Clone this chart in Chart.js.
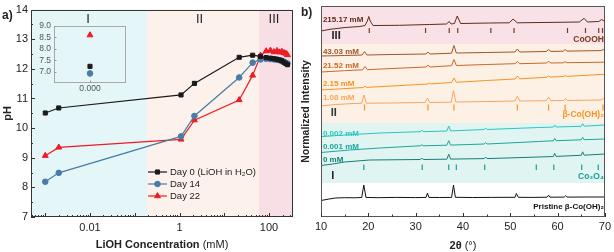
<!DOCTYPE html>
<html>
<head>
<meta charset="utf-8">
<script src="https://cdn.jsdelivr.net/npm/chart.js@4.4.1/dist/chart.umd.min.js"></script>
<style>
  html, body { margin: 0; padding: 0; background: #fff; }
  #wrap { position: relative; width: 614px; height: 252px; overflow: hidden; }
  canvas { position: absolute; }
</style>
</head>
<body>
<div id="wrap">
  <canvas id="phChart" width="300" height="252" style="left:0px;top:0px"></canvas>
  <canvas id="insetChart" width="105" height="80" style="left:30px;top:15px"></canvas>
  <canvas id="xrdChart" width="318" height="252" style="left:296px;top:0px"></canvas>
</div>
<script>
// ---- panel a: pH vs LiOH concentration ----
const conc = [0.001, 0.002, 1.08, 2.15, 21.52, 43.03, 64.55, 86.07, 107.59, 129.1, 150.62, 172.14, 193.65, 215.17, 236.69, 258.2];
const phDay0 = [10.51, 10.68, 11.12, 11.51, 12.39, 12.46, 12.42, 12.38, 12.36, 12.34, 12.32, 12.3, 12.27, 12.22, 12.18, 12.14];
const phDay14 = [8.19, 8.49, 9.72, 10.41, 11.71, 12.21, 12.32, 12.34, 12.33, 12.32, 12.31, 12.29, 12.27, 12.24, 12.21, 12.18];
const phDay22 = [9.07, 9.35, 9.62, 10.27, 10.95, 11.78, 12.45, 12.6, 12.62, 12.57, 12.61, 12.56, 12.58, 12.54, 12.52, 12.47];
const seriesNames = ['Day 0 (LiOH in H\u2082O)', 'Day 14', 'Day 22'];
const xTickVals = [0.01, 1, 100];
const xTickLabels = ['0.01', '1', '100'];
const regionEdges = [0.188, 59.8];
const regionNames = ['I', 'II', 'III'];
const regionLabelConc = [0.009, 2.8, 129];

// inset: the three values at 0.000 mM
const insetCategory = ['0.000'];
const insetPH = [7.23, 6.92, 8.6];
const insetTicks = [7.0, 7.5, 8.0, 8.5, 9.0];

// ---- panel b: XRD patterns (2theta, intensity a.u.) ----
const xrdNames = ['215.17 mM', '43.03 mM', '21.52 mM', '2.15 mM', '1.08 mM', '0.002 mM', '0.001 mM', '0 mM', 'Pristine \u03b2-Co(OH)\u2082'];
const xrd215 = [[10,186],[11.9,187.7],[15.1,189.5],[18.2,190.5],[19.3,191.5],[19.8,196],[20.1,200.5],[20.4,196],[21,191.5],[26.6,191.7],[32.9,192.5],[36.5,193],[37.1,195.5],[37.5,193],[38.2,193.5],[38.8,201],[39.5,193.5],[45.6,194],[49.8,194.2],[50.6,198],[51.5,194.2],[60.3,194.7],[64.6,195],[65.6,198.7],[66.3,195],[68.7,195.5],[69.3,197.5],[70,195.5]];
const xrd43 = [[10,161],[15,161.5],[18.7,162],[19.2,165.5],[19.7,162],[25,162.5],[32.2,163],[32.6,165],[33,163],[37.6,163.8],[38.1,171.5],[38.6,164],[45,164.5],[51,165],[51.5,168],[52,165],[57.6,165.5],[58.1,167.5],[58.6,165.6],[61.2,165.8],[61.6,167.5],[62,165.9],[69.2,166.4],[69.6,167.5],[70,166.5]];
const xrd21 = [[10,145],[15,146.3],[18.8,147.2],[19.3,150.5],[19.8,147.3],[25,148.5],[32.2,150],[32.6,152],[33,150],[37.6,151.3],[38.1,157.5],[38.6,151.5],[45,152.5],[51,153.3],[51.5,155.5],[52,153.3],[57.6,154],[58.1,155.5],[58.6,154],[61.2,154.2],[61.6,155.3],[62,154.3],[70,154.8]];
const xrd2 = [[10,127],[19,129.5],[19.3,131],[19.6,129.6],[30,132.3],[32.6,133],[32.9,134],[33.2,133.1],[37.6,134.5],[38.1,139],[38.6,134.7],[45,136.5],[51,138],[51.5,141],[52,138.2],[57.8,139.8],[58.1,141.3],[58.4,139.9],[61.3,140.5],[61.6,141.5],[61.9,140.6],[70,142.7]];
const xrd1 = [[10,111],[13,112.5],[17,113.5],[18.6,113.7],[19.1,122],[19.6,113.8],[25,114],[32,114.5],[32.5,119],[33,114.5],[37.5,114.8],[38,126.3],[38.5,115],[45,115.5],[51,116],[51.5,121],[52,116],[57.6,116.3],[58.1,120],[58.6,116.3],[61.3,116.5],[61.7,118.7],[62.1,116.5],[69.2,117],[69.6,118.5],[70,117]];
const xrd0002 = [[10,80.3],[16,82.3],[22.4,84],[31,85.3],[31.3,86.8],[31.6,85.3],[36.6,86],[37,91],[37.4,86.1],[44.5,87.5],[44.8,89],[45.1,87.5],[56,89.5],[59.1,89.9],[59.4,92],[59.7,90],[65,90.7],[65.3,93.3],[65.6,90.8],[70,92]];
const xrd0001 = [[10,64.5],[16,67],[22.4,69],[31,71.2],[31.3,72.2],[31.6,71.2],[36.6,71.8],[37,76.3],[37.4,71.9],[44.5,73],[44.8,74.5],[45.1,73],[56,75.5],[59.1,76.2],[59.4,78.7],[59.7,76.3],[65,77.2],[65.3,79.7],[65.6,77.3],[70,78]];
const xrd0 = [[10,51.5],[12.5,53],[15,55],[20.3,57],[31,57.5],[31.3,59],[31.6,57.5],[36.6,57.8],[37,62.8],[37.4,57.9],[44.5,58.4],[44.8,60],[45.1,58.4],[56,60],[59.1,60.5],[59.4,63.5],[59.7,60.6],[65,61.7],[65.3,65.2],[65.6,61.8],[70,63]];
const xrdPristine = [[10,16.5],[11.5,17.8],[13,19],[15,19.3],[17,19.2],[18.6,19.5],[19.05,32],[19.5,19.6],[22,19.3],[26,19.6],[30,19.4],[32.2,19.6],[32.5,24],[32.8,19.6],[35,19.5],[37.6,19.6],[38,32],[38.4,19.7],[42,19.5],[46,19.6],[51,19.7],[51.3,23.5],[51.7,19.7],[55,19.6],[57.8,19.8],[58.1,21.8],[58.4,19.8],[61.4,19.9],[61.7,21.3],[62,19.9],[66,20],[70,20]];

// reference peak positions (2theta)
const refCoOOH = [20.2, 32.1, 37.1, 38.9, 45.9, 50.8, 62.1, 65.9, 68.7, 69.5];
const refBeta = [19.2, 32.6, 38.1, 51.5, 58.1, 61.6, 69.6];
const refCo3O4 = [19.05, 31.4, 37.0, 38.6, 44.6, 55.5, 59.2, 65.1, 68.6];
const refNames = ['CoOOH', '\u03b2-Co(OH)\u2082', 'Co\u2083O\u2084'];

// ---- styling ----
const FONT = "'Liberation Sans', Arial, sans-serif";
Chart.defaults.font.family = FONT;
Chart.defaults.color = '#222';

const colDay0 = '#1a1a1a', colDay14 = '#4a7ca6', colDay22 = '#ee1c25';
const pointStyles = [
  { style: 'rect', r: 2.9, fill: colDay0, line: colDay0 },
  { style: 'circle', r: 2.8, fill: colDay14, line: colDay14 },
  { style: 'triangle', r: 3.4, fill: colDay22, line: colDay22 }
];
const regionColors = ['#e4f6f7', '#fdf1eb', '#f8dfe6'];

function txt(ctx, s, x, y, font, color, align, base) {
  ctx.font = font; ctx.fillStyle = color;
  ctx.textAlign = align || 'center'; ctx.textBaseline = base || 'middle';
  ctx.fillText(s, x, y);
}
function mixed(ctx, parts, cx, cy, color) {
  let w = 0;
  parts.forEach(p => { ctx.font = p[1]; w += ctx.measureText(p[0]).width; });
  let x = cx - w / 2;
  ctx.fillStyle = color; ctx.textAlign = 'left'; ctx.textBaseline = 'middle';
  parts.forEach(p => { ctx.font = p[1]; ctx.fillText(p[0], x, cy); x += ctx.measureText(p[0]).width; });
}
function frame(ctx, a, color) {
  ctx.strokeStyle = color; ctx.lineWidth = 1;
  ctx.strokeRect(Math.round(a.left) + 0.5, Math.round(a.top) + 0.5, Math.round(a.right - a.left) - 1, Math.round(a.bottom - a.top) - 1);
}

const phDeco = {
  id: 'phDeco',
  beforeDatasetsDraw(chart) {
    const { ctx, chartArea: a, scales: { x } } = chart;
    const edges = [a.left, x.getPixelForValue(regionEdges[0]), x.getPixelForValue(regionEdges[1]), a.right];
    ctx.save();
    for (let i = 0; i < 3; i++) {
      ctx.fillStyle = regionColors[i];
      ctx.fillRect(edges[i], a.top, edges[i + 1] - edges[i], a.bottom - a.top);
    }
    ctx.restore();
  },
  afterDraw(chart) {
    const { ctx, chartArea: a, scales: { x, y } } = chart;
    ctx.save();
    frame(ctx, a, '#333');
    ctx.beginPath();
    for (let e = -4; e <= 2; e++) {
      for (let m = 1; m <= 9; m++) {
        const v = m * Math.pow(10, e);
        if (v < x.min || v > x.max) continue;
        const px = Math.round(x.getPixelForValue(v)) + 0.5;
        const len = m === 1 ? 4 : 2;
        ctx.moveTo(px, a.bottom); ctx.lineTo(px, a.bottom - len);
      }
    }
    for (let v = 7; v <= 14; v += 0.5) {
      const py = Math.round(y.getPixelForValue(v)) + 0.5;
      ctx.moveTo(a.left, py); ctx.lineTo(a.left + (v % 1 === 0 ? 4 : 2), py);
    }
    ctx.strokeStyle = '#333'; ctx.stroke();

    regionNames.forEach((n, i) => {
      txt(ctx, n, x.getPixelForValue(regionLabelConc[i]), y.getPixelForValue(13.67), '13px ' + FONT, '#222');
    });

    // legend
    const rows = [172, 184, 196];
    const cols = [colDay0, colDay14, colDay22];
    rows.forEach((ry, i) => {
      ctx.beginPath(); ctx.moveTo(148, ry); ctx.lineTo(167, ry);
      ctx.strokeStyle = cols[i]; ctx.lineWidth = 1.2; ctx.stroke();
      const ps = pointStyles[i];
      ctx.fillStyle = ps.fill; ctx.strokeStyle = ps.line; ctx.lineWidth = 1;
      Chart.helpers.drawPoint(ctx, { pointStyle: ps.style, radius: ps.r, rotation: 0, borderWidth: 1 }, 157.5, ry);
      txt(ctx, seriesNames[i], 170, ry, '9.5px ' + FONT, '#222', 'left');
    });

    mixed(ctx, [['LiOH Concentration ', 'bold 11px ' + FONT], ['(mM)', '11px ' + FONT]], (a.left + a.right) / 2, 245, '#222');
    ctx.save();
    ctx.translate(8, (a.top + a.bottom) / 2); ctx.rotate(-Math.PI / 2);
    txt(ctx, 'pH', 0, 0, 'bold 11px ' + FONT, '#222');
    ctx.restore();
    txt(ctx, 'a)', 2, 16, 'bold 12px ' + FONT, '#222', 'left');
    ctx.restore();
  }
};

function phSet(label, vals, i, col) {
  const ps = pointStyles[i];
  return {
    label, data: conc.map((c, k) => ({ x: c, y: vals[k] })),
    borderColor: col, backgroundColor: ps.fill, borderWidth: 1.2,
    pointStyle: ps.style, pointRadius: ps.r, pointBorderColor: ps.line, pointBorderWidth: 1, tension: 0
  };
}

new Chart(document.getElementById('phChart'), {
  type: 'line',
  data: { datasets: [phSet(seriesNames[0], phDay0, 0, colDay0), phSet(seriesNames[1], phDay14, 1, colDay14), phSet(seriesNames[2], phDay22, 2, colDay22)] },
  options: {
    responsive: false, animation: false, devicePixelRatio: 1,
    layout: { padding: { left: 0, right: 7, top: 6, bottom: 0 } },
    plugins: { legend: { display: false }, tooltip: { enabled: false } },
    scales: {
      x: {
        type: 'logarithmic', min: 0.00048, max: 343,
        grid: { display: false, drawTicks: false }, border: { display: false },
        afterBuildTicks: s => { s.ticks = xTickVals.map(v => ({ value: v })); },
        afterFit: s => { s.height = 35; },
        ticks: { autoSkip: false, maxRotation: 0, padding: 4, color: '#222', font: { size: 11 }, callback: (v, i) => xTickLabels[i] }
      },
      y: {
        min: 7, max: 14,
        grid: { display: false, drawTicks: false }, border: { display: false },
        afterFit: s => { s.width = 31; },
        ticks: { stepSize: 1, padding: 3, color: '#222', font: { size: 11 } }
      }
    }
  },
  plugins: [phDeco]
});

// ---- inset ----
const insetDeco = {
  id: 'insetDeco',
  afterDraw(chart) {
    const { ctx, chartArea: a, scales: { x, y } } = chart;
    ctx.save();
    frame(ctx, a, '#a9a9a9');
    ctx.beginPath();
    insetTicks.forEach(v => {
      const py = Math.round(y.getPixelForValue(v)) + 0.5;
      ctx.moveTo(a.left, py); ctx.lineTo(a.left + 2.5, py);
    });
    const px = Math.round(x.getPixelForValue(0)) + 0.5;
    ctx.moveTo(px, a.bottom); ctx.lineTo(px, a.bottom - 2.5);
    ctx.strokeStyle = '#999'; ctx.stroke();
    ctx.restore();
  }
};
new Chart(document.getElementById('insetChart'), {
  type: 'scatter',
  data: {
    datasets: insetPH.map((v, i) => ({
      label: seriesNames[i], data: [{ x: 0, y: v }],
      pointStyle: pointStyles[i].style, pointRadius: pointStyles[i].r,
      backgroundColor: pointStyles[i].fill, borderColor: pointStyles[i].line, borderWidth: 1
    }))
  },
  options: {
    responsive: false, animation: false, devicePixelRatio: 1,
    layout: { padding: { left: 0, right: 9, top: 11, bottom: 0 } },
    plugins: { legend: { display: false }, tooltip: { enabled: false } },
    scales: {
      x: {
        type: 'linear', min: -1, max: 1,
        grid: { display: false, drawTicks: false }, border: { display: false },
        afterBuildTicks: s => { s.ticks = [{ value: 0 }]; },
        afterFit: s => { s.height = 12; },
        ticks: { padding: 1, color: '#555', font: { size: 8.5 }, maxRotation: 0, callback: () => insetCategory[0] }
      },
      y: {
        min: 6.5, max: 9,
        grid: { display: false, drawTicks: false }, border: { display: false },
        afterBuildTicks: s => { s.ticks = insetTicks.map(v => ({ value: v })); },
        afterFit: s => { s.width = 24; },
        ticks: { padding: 3, color: '#555', font: { size: 8.5 }, callback: v => v.toFixed(1) }
      }
    }
  },
  plugins: [insetDeco]
});

// ---- panel b ----
const xrdSeries = [xrd215, xrd43, xrd21, xrd2, xrd1, xrd0002, xrd0001, xrd0, xrdPristine];
const xrdColors = ['#5e2b19', '#a0552c', '#c9692a', '#f7931e', '#f8a65c', '#2ec4bd', '#1ea49d', '#157f78', '#111111'];
const xrdLabelAt = [[10.4, 197], [10.4, 165], [10.4, 151], [10.4, 133], [10.4, 119.3], [10.4, 83.7], [10.4, 70.3], [10.4, 57]];
const refSets = [
  { pos: refCoOOH, lo: 184, hi: 189, color: '#7a3b1e' },
  { pos: refBeta, lo: 106.5, hi: 112.5, color: '#f7941d' },
  { pos: refCo3O4, lo: 47, hi: 52.5, color: '#1a9e96' }
];
const xrdBands = [
  { from: 173, to: 211, color: '#f9e1e8' },
  { from: 94, to: 173, color: '#fdf1e6' },
  { from: 34, to: 94, color: '#e0f5f2' }
];

const xrdDeco = {
  id: 'xrdDeco',
  beforeDatasetsDraw(chart) {
    const { ctx, chartArea: a, scales: { y } } = chart;
    ctx.save();
    xrdBands.forEach(b => {
      const y1 = y.getPixelForValue(b.to), y2 = y.getPixelForValue(b.from);
      ctx.fillStyle = b.color;
      ctx.fillRect(a.left, y1, a.right - a.left, y2 - y1);
    });
    ctx.restore();
  },
  afterDraw(chart) {
    const { ctx, chartArea: a, scales: { x, y } } = chart;
    ctx.save();
    frame(ctx, a, '#555');
    ctx.beginPath();
    for (let v = 10; v <= 70; v += 5) {
      const px = Math.round(x.getPixelForValue(v)) + 0.5;
      ctx.moveTo(px, a.bottom); ctx.lineTo(px, a.bottom - (v % 10 === 0 ? 4 : 2.5));
    }
    ctx.strokeStyle = '#333'; ctx.stroke();

    xrdLabelAt.forEach((p, i) => {
      txt(ctx, xrdNames[i], x.getPixelForValue(p[0]), y.getPixelForValue(p[1]), 'bold 8px ' + FONT, xrdColors[i], 'left');
    });
    const rx = x.getPixelForValue(69.8);
    txt(ctx, xrdNames[8], rx, y.getPixelForValue(10.5), 'bold 8px ' + FONT, '#111', 'right');
    txt(ctx, refNames[0], rx, y.getPixelForValue(177.5), 'bold 8.5px ' + FONT, '#7a3b1e', 'right');
    txt(ctx, refNames[1], rx, y.getPixelForValue(102), 'bold 8.5px ' + FONT, '#f7941d', 'right');
    txt(ctx, refNames[2], rx, y.getPixelForValue(40.5), 'bold 8.5px ' + FONT, '#1a9e96', 'right');
    txt(ctx, 'III', x.getPixelForValue(13.2), y.getPixelForValue(181), 'bold 11px ' + FONT, '#222');
    txt(ctx, 'II', x.getPixelForValue(12.7), y.getPixelForValue(104), 'bold 11px ' + FONT, '#333');
    txt(ctx, 'I', x.getPixelForValue(12.5), y.getPixelForValue(41), 'bold 11px ' + FONT, '#222');

    mixed(ctx, [['2\u03b8 ', 'bold 11px ' + FONT], ['(\u00b0)', '11px ' + FONT]], (a.left + a.right) / 2, 246, '#222');
    ctx.save();
    ctx.translate(10, (a.top + a.bottom) / 2); ctx.rotate(-Math.PI / 2);
    txt(ctx, 'Normalized Intensity', 0, 0, 'bold 10.5px ' + FONT, '#222');
    ctx.restore();
    txt(ctx, 'b)', 5, 13, 'bold 12px ' + FONT, '#222', 'left');
    ctx.restore();
  }
};

const xrdDatasets = xrdSeries.map((s, i) => ({
  label: xrdNames[i], data: s.map(p => ({ x: p[0], y: p[1] })),
  borderColor: xrdColors[i], borderWidth: 1, pointRadius: 0, tension: 0
}));
refSets.forEach((r, i) => {
  const d = [];
  r.pos.forEach(p => { d.push({ x: p, y: r.lo }, { x: p, y: r.hi }, { x: p, y: null }); });
  xrdDatasets.push({ label: refNames[i], data: d, borderColor: r.color, borderWidth: 1.2, pointRadius: 0, spanGaps: false });
});

new Chart(document.getElementById('xrdChart'), {
  type: 'line',
  data: { datasets: xrdDatasets },
  options: {
    responsive: false, animation: false, devicePixelRatio: 1,
    layout: { padding: { left: 0, right: 8, top: 6, bottom: 0 } },
    plugins: { legend: { display: false }, tooltip: { enabled: false } },
    scales: {
      x: {
        type: 'linear', min: 10, max: 70,
        grid: { display: false, drawTicks: false }, border: { display: false },
        afterFit: s => { s.height = 35; },
        ticks: { stepSize: 10, padding: 3, color: '#222', font: { size: 11 }, maxRotation: 0 }
      },
      y: {
        min: 0, max: 211,
        grid: { display: false, drawTicks: false }, border: { display: false },
        afterFit: s => { s.width = 25; },
        ticks: { display: false }
      }
    }
  },
  plugins: [xrdDeco]
});
</script>
</body>
</html>
